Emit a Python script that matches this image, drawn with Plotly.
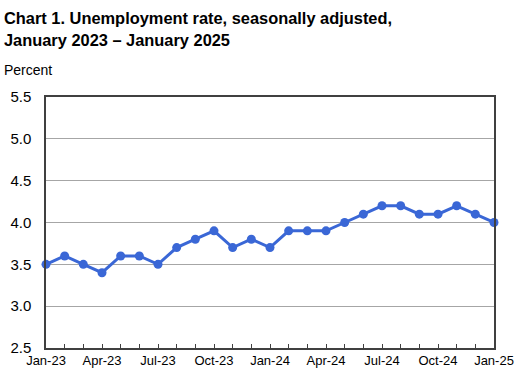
import plotly.graph_objects as go

months = ["Jan-23","Feb-23","Mar-23","Apr-23","May-23","Jun-23","Jul-23","Aug-23","Sep-23","Oct-23","Nov-23","Dec-23",
          "Jan-24","Feb-24","Mar-24","Apr-24","May-24","Jun-24","Jul-24","Aug-24","Sep-24","Oct-24","Nov-24","Dec-24","Jan-25"]
rates = [3.5,3.6,3.5,3.4,3.6,3.6,3.5,3.7,3.8,3.9,3.7,3.8,
         3.7,3.9,3.9,3.9,4.0,4.1,4.2,4.2,4.1,4.1,4.2,4.1,4.0]
tick_labels = ["Jan-23","Apr-23","Jul-23","Oct-23","Jan-24","Apr-24","Jul-24","Oct-24","Jan-25"]
y_ticks = [2.5,3.0,3.5,4.0,4.5,5.0,5.5]

idx = list(range(len(months)))
tick_pos = [months.index(t) for t in tick_labels]

fig = go.Figure()
fig.add_trace(go.Scatter(
    x=idx, y=rates, mode="lines+markers",
    line=dict(color="#3a67d6", width=3),
    marker=dict(color="#3a67d6", size=9),
    cliponaxis=False, hovertext=months, showlegend=False,
))

font = "Liberation Sans, Arial, sans-serif"
fig.update_layout(
    width=516, height=375,
    margin=dict(l=46, r=22, t=97, b=27),
    paper_bgcolor="white", plot_bgcolor="white",
    font=dict(family=font, color="black"),
    xaxis=dict(
        range=[0, 24], tickvals=tick_pos, ticktext=tick_labels, automargin=False,
        tickfont=dict(size=13), ticks="inside", ticklen=4, tickcolor="#404040",
        minor=dict(dtick=1, tick0=0, ticks="inside", ticklen=4, tickcolor="#404040"),
        showgrid=False, showline=True, linecolor="#404040", linewidth=1.5,
        mirror=True, zeroline=False,
    ),
    yaxis=dict(
        range=[2.5, 5.5], tickvals=y_ticks, ticktext=[f"{v:.1f}" for v in y_ticks],
        automargin=False,
        tickfont=dict(size=15), ticks="", ticklabelstandoff=10,
        showgrid=True, gridcolor="#a6a6a6", gridwidth=1,
        showline=True, linecolor="#404040", linewidth=1.5, mirror=True, zeroline=False,
    ),
    annotations=[
        dict(
            text="<b>Chart 1. Unemployment rate, seasonally adjusted,</b>",
            xref="paper", yref="paper", x=0, y=1, xanchor="left", yanchor="middle",
            xshift=-44, yshift=97 - 18, showarrow=False,
            font=dict(size=16.4, family=font, color="black"),
        ),
        dict(
            text="<b>January 2023 – January 2025</b>",
            xref="paper", yref="paper", x=0, y=1, xanchor="left", yanchor="middle",
            xshift=-44, yshift=97 - 40, showarrow=False,
            font=dict(size=16.4, family=font, color="black"),
        ),
        dict(
            text="Percent", xref="paper", yref="paper", x=0, y=1,
            xanchor="left", yanchor="middle", xshift=-44, yshift=97 - 70,
            showarrow=False, font=dict(size=14, family=font, color="black"),
        ),
    ],
)

fig.write_html("out.html", config={"displayModeBar": False},
               post_script="document.body.style.margin='0';document.body.style.overflow='hidden';")
